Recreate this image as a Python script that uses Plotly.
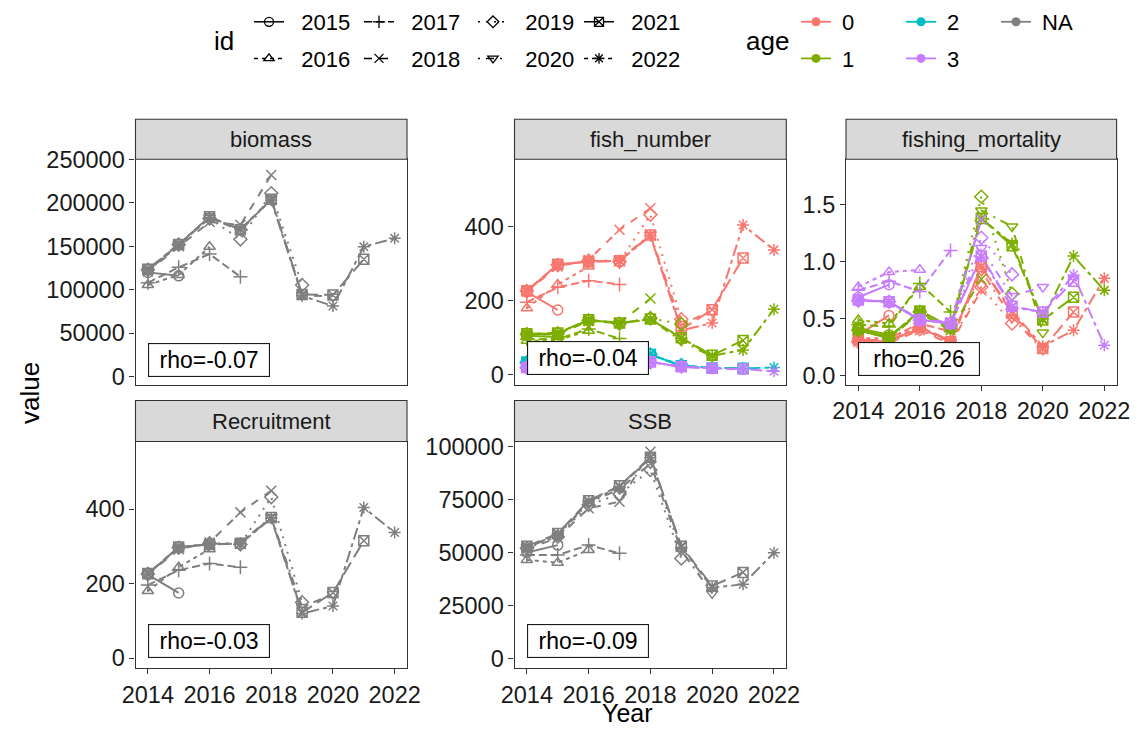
import plotly.graph_objects as go

# ---------------- data ----------------
years = [2014, 2015, 2016, 2017, 2018, 2019, 2020, 2021, 2022]
ids = [2015, 2016, 2017, 2018, 2019, 2020, 2021, 2022]
x_ticks = [2014, 2016, 2018, 2020, 2022]

# each row: values for years 2014 .. id
biomass_by_id = [
    [120000, 116000],
    [105500, 117000, 149500],
    [108000, 125800, 141000, 115000],
    [121000, 150000, 178000, 174500, 232000],
    [123000, 152000, 182000, 158000, 211000, 105500],
    [123000, 152500, 183000, 168000, 205000, 94000, 92000],
    [123500, 152000, 184000, 169000, 204000, 94500, 94000, 135000],
    [122000, 151000, 183000, 170000, 203000, 93000, 81300, 149500, 159200],
]
ssb_by_id = [
    [50000, 53500],
    [46500, 45200, 51200],
    [48800, 48800, 53500, 49600],
    [51500, 57000, 70900, 74000, 97600],
    [52000, 57500, 72500, 77600, 89000, 47200],
    [52500, 58000, 73500, 80000, 92000, 51000, 30700],
    [53000, 59000, 74500, 81500, 95000, 53000, 34200, 40600],
    [52500, 58500, 74000, 81000, 94800, 52500, 33300, 35000, 49900],
]
number_age0_by_id = [
    [224, 175],
    [180, 244, 292],
    [196, 236, 254, 244],
    [225, 292, 310, 391, 449],
    [226, 296, 308, 305, 432, 150],
    [226, 297, 306, 310, 378, 137, 172],
    [227, 298, 305, 308, 377, 123, 176, 315],
    [226, 297, 306, 307, 375, 120, 140, 404, 337],
]
recruitment_by_id = number_age0_by_id
number_age1_by_id = [
    [106, 102],
    [92, 94, 119],
    [96, 97, 124, 98],
    [108, 110, 145, 140, 206],
    [110, 112, 147, 138, 153, 137],
    [110, 112, 148, 140, 150, 92, 49],
    [111, 113, 149, 140, 151, 100, 53, 93],
    [110, 112, 148, 139, 150, 99, 52, 67, 177],
]
number_age2_by_id = [
    [32, 38],
    [30, 36, 40],
    [31, 37, 41, 44],
    [33, 40, 45, 48, 57],
    [34, 41, 45, 47, 55, 27],
    [34, 41, 46, 48, 54, 25, 20],
    [35, 42, 46, 48, 55, 25, 19, 18],
    [35, 42, 45, 48, 55, 25, 19, 18, 20],
]
number_age3_by_id = [
    [18, 22],
    [17, 21, 26],
    [18, 22, 27, 29],
    [19, 23, 29, 31, 36],
    [20, 24, 30, 31, 34, 23],
    [20, 24, 30, 32, 35, 22, 18],
    [20, 24, 30, 32, 35, 22, 18, 16],
    [20, 24, 30, 32, 35, 22, 18, 16, 10],
]
f_age0_by_id = [
    [0.36, 0.53],
    [0.33, 0.33, 0.45],
    [0.30, 0.33, 0.46, 0.39],
    [0.30, 0.29, 0.40, 0.28, 0.75],
    [0.30, 0.29, 0.41, 0.29, 0.78, 0.46],
    [0.31, 0.30, 0.42, 0.30, 0.92, 0.51, 0.23],
    [0.32, 0.30, 0.43, 0.30, 0.96, 0.55, 0.24, 0.56],
    [0.32, 0.31, 0.43, 0.31, 0.96, 0.57, 0.26, 0.40, 0.855],
]
f_age1_by_id = [
    [0.42, 0.36],
    [0.49, 0.46, 0.78],
    [0.45, 0.43, 0.81, 0.56],
    [0.40, 0.33, 0.55, 0.40, 0.85],
    [0.40, 0.33, 0.56, 0.42, 1.57, 0.72],
    [0.40, 0.33, 0.56, 0.42, 1.45, 1.31, 0.38],
    [0.41, 0.34, 0.57, 0.43, 1.38, 1.14, 0.49, 0.69],
    [0.41, 0.34, 0.57, 0.43, 1.38, 1.16, 0.50, 1.05, 0.75],
]
f_age3_by_id = [
    [0.69, 0.80],
    [0.78, 0.91, 0.93],
    [0.75, 0.83, 0.74, 1.10],
    [0.67, 0.65, 0.50, 0.47, 1.37],
    [0.66, 0.65, 0.49, 0.46, 1.21, 0.89],
    [0.66, 0.65, 0.49, 0.46, 1.12, 0.70, 0.78],
    [0.665, 0.65, 0.49, 0.46, 1.05, 0.61, 0.56, 0.83],
    [0.665, 0.65, 0.49, 0.46, 1.04, 0.60, 0.56, 0.885, 0.27],
]
rho_labels = ["rho=-0.07", "rho=-0.04", "rho=0.26", "rho=-0.03", "rho=-0.09"]
panel_names = ["biomass", "fish_number", "fishing_mortality", "Recruitment", "SSB"]
age_labels = ["0", "1", "2", "3", "NA"]

# ---------------- styling ----------------
# the page body has an 8px margin; figure is sized so it fits the 1142x736 window
OFF = 8
W, H = 1126, 720
FONT = "Liberation Sans, Arial, sans-serif"


def fx(px):
    return (px - OFF) / W


def fy(py):
    return 1 - (py - OFF) / H


age_colors = {"0": "#F8766D", "1": "#7CAE00", "2": "#00BFC4", "3": "#C77CFF", "NA": "#7F7F7F"}
symbols = ["circle-open", "triangle-up-open", "cross-thin-open", "x-thin-open",
           "diamond-open", "triangle-down-open", "square-x-open", "asterisk-open"]
dashes = ["solid", "4px,4px", "8px,4px", "8px,8px", "2px,6px",
          "2px,6px,8px,6px", "14px,6px", "4px,4px,12px,4px"]

cols_px = [(135.5, 407.0), (514.5, 786.3), (846.0, 1116.6)]
rows_px = [(159.3, 385.0), (441.5, 668.3)]
strips_px = [(119.3, 159.3), (400.5, 441.5)]

panels = [
    dict(series=[("NA", biomass_by_id)], col=0, row=0, yr=[-9550, 250050],
         yt=[0, 50000, 100000, 150000, 200000, 250000], fmt="d", xlab=False),
    dict(series=[("0", number_age0_by_id), ("1", number_age1_by_id),
                 ("2", number_age2_by_id), ("3", number_age3_by_id)],
         col=1, row=0, yr=[-27, 581], yt=[0, 200, 400], fmt="d", xlab=False),
    dict(series=[("0", f_age0_by_id), ("1", f_age1_by_id), ("3", f_age3_by_id)],
         col=2, row=0, yr=[-0.079, 1.898], yt=[0, 0.5, 1.0, 1.5], fmt=".1f", xlab=True),
    dict(series=[("NA", recruitment_by_id)], col=0, row=1, yr=[-27, 581],
         yt=[0, 200, 400], fmt="d", xlab=True),
    dict(series=[("NA", ssb_by_id)], col=1, row=1, yr=[-4726, 102460],
         yt=[0, 25000, 50000, 75000, 100000], fmt="d", xlab=True),
]

fig = go.Figure()
layout = dict(width=W, height=H, margin=dict(l=0, r=0, t=0, b=0, autoexpand=False),
              paper_bgcolor="white", plot_bgcolor="white", showlegend=True)
shapes, annotations = [], []
tickfont = dict(family=FONT, size=23.5, color="#1A1A1A")
LINE = "#333333"

for i, p in enumerate(panels):
    n = i + 1
    xs = "" if n == 1 else str(n)
    x0, x1 = cols_px[p["col"]]
    y0, y1 = rows_px[p["row"]]
    layout["xaxis" + xs] = dict(
        domain=[fx(x0), fx(x1)], anchor="y" + xs, range=[2013.6, 2022.4],
        tickvals=x_ticks, showticklabels=p["xlab"], ticks="outside" if p["xlab"] else "",
        ticklen=5, tickwidth=1.1, tickcolor=LINE, tickfont=tickfont,
        showgrid=False, zeroline=False, showline=True, mirror=True,
        linecolor=LINE, linewidth=1.1, automargin=False)
    layout["yaxis" + xs] = dict(
        domain=[fy(y1), fy(y0)], anchor="x" + xs, range=p["yr"],
        tickvals=p["yt"], tickformat=p["fmt"], ticks="outside", ticklen=5,
        tickwidth=1.1, tickcolor=LINE, tickfont=tickfont,
        showgrid=False, zeroline=False, showline=True, mirror=True,
        linecolor=LINE, linewidth=1.1, automargin=False)
    # strip
    s0, s1 = strips_px[p["row"]]
    shapes.append(dict(type="rect", xref="paper", yref="paper",
                       x0=fx(x0), x1=fx(x1), y0=fy(s1), y1=fy(s0),
                       fillcolor="#D9D9D9", line=dict(color=LINE, width=1.1), layer="above"))
    annotations.append(dict(xref="paper", yref="paper", x=fx((x0 + x1) / 2),
                            y=fy((s0 + s1) / 2), text=panel_names[i], showarrow=False,
                            font=dict(family=FONT, size=22, color="#1A1A1A"),
                            xanchor="center", yanchor="middle"))
    # lines first, then points (ggplot layer order)
    for mode in ("lines", "markers"):
        for age, rows in p["series"]:
            c = age_colors[age]
            for k, vals in enumerate(rows):
                xv = years[:len(vals)]
                tr = dict(x=xv, y=vals, xaxis="x" + xs, yaxis="y" + xs,
                          showlegend=False, hoverinfo="skip", mode=mode)
                if mode == "lines":
                    tr["line"] = dict(color=c, width=2.0, dash=dashes[k])
                else:
                    tr["marker"] = dict(symbol=symbols[k], size=10, color=c,
                                        line=dict(color=c, width=1.5))
                fig.add_trace(go.Scatter(**tr))
    # rho label
    annotations.append(dict(xref="x" + xs, yref="y" + xs, x=2014, y=0,
                            text=rho_labels[i], showarrow=False, xanchor="left",
                            yanchor="bottom", bgcolor="white", bordercolor="#1A1A1A",
                            borderwidth=1.1, borderpad=3, width=114, height=26,
                            font=dict(family=FONT, size=23, color="black")))

# ---------------- legends ----------------
legfont = dict(family=FONT, size=22, color="black")
id_cols_x = [251, 361, 475, 581]
age_cols_x = [798, 903, 998]
leg_names = []
for j, lx in enumerate(id_cols_x + age_cols_x):
    name = "legend" if j == 0 else "legend" + str(j + 1)
    leg_names.append(name)
    layout[name] = dict(x=fx(lx - 2), y=fy(1), xanchor="left", yanchor="top",
                        orientation="v", bgcolor="rgba(0,0,0,0)", font=legfont,
                        tracegroupgap=5, itemwidth=30, traceorder="grouped")
NB = "\u00a0"
for k, idv in enumerate(ids):
    fig.add_trace(go.Scatter(
        x=[None], y=[None], mode="lines+markers", name=NB * 2 + str(idv),
        legend=leg_names[k // 2], legendgroup="id" + str(idv),
        line=dict(color="black", width=1.5, dash=dashes[k]),
        marker=dict(symbol=symbols[k], size=9, color="black", line=dict(color="black", width=1.3))))
for k, a in enumerate(age_labels):
    fig.add_trace(go.Scatter(
        x=[None], y=[None], mode="lines+markers", name=NB + a,
        legend=leg_names[4 + k // 2], legendgroup="age" + a,
        line=dict(color=age_colors[a], width=1.8),
        marker=dict(symbol="circle", size=9, color=age_colors[a])))

for txt, xp, yp, ang, sz in [("id", 224, 41, 0, 26), ("age", 767, 41, 0, 26),
                             ("value", 30, 393, -90, 26), ("Year", 627, 713, 0, 25)]:
    annotations.append(dict(xref="paper", yref="paper", x=fx(xp), y=fy(yp), text=txt,
                            showarrow=False, textangle=ang, xanchor="center", yanchor="middle",
                            font=dict(family=FONT, size=sz, color="black")))

layout["shapes"] = shapes
layout["annotations"] = annotations
fig.update_layout(**layout)
fig.write_html("out.html")
